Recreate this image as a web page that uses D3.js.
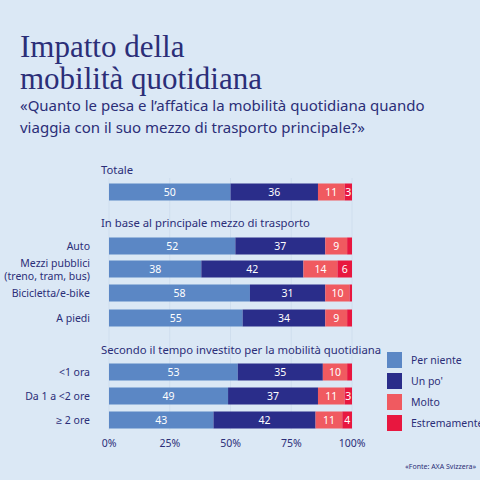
<!DOCTYPE html>
<html><head><meta charset="utf-8">
<script src="https://cdn.jsdelivr.net/npm/d3@7"></script>
<style>body{margin:0;background:#dbe8f5}svg{display:block}</style>
</head><body><svg id="c" width="480" height="480"></svg>
<script>
const series=["Per niente","Un po'","Molto","Estremamente"];
const colors=["#5b87c5","#2a2d8a","#f05a60","#e8173f"];
const categories=["Totale","Auto","Mezzi pubblici|(treno, tram, bus)","Bicicletta/e-bike","A piedi","<1 ora","Da 1 a <2 ore","≥ 2 ore"];
const perNiente=[50,52,38,58,55,53,49,43];
const unPo=[36,37,42,31,34,35,37,42];
const molto=[11,9,14,10,9,10,11,11];
const estremamente=[3,2,6,1,2,2,3,4];
const ticks=[0,25,50,75,100];
const rowY=[192,246,269,293,318,372,396,420];
const showCatLabel=[false,true,true,true,true,true,true,true];
const ink="#2b2e78";
const svg=d3.select("#c");
svg.append("rect").attr("width",480).attr("height",480).attr("fill","#dbe8f5");
const x=d3.scaleLinear().domain([0,100]).range([109,352]);
const bh=17;
svg.append("g").selectAll("line").data(ticks).join("line")
 .attr("x1",d=>x(d)).attr("x2",d=>x(d)).attr("y1",178).attr("y2",430)
 .attr("stroke","#cfdeee").attr("stroke-width",1);
const t=svg.append("text").attr("font-family","Liberation Serif, DejaVu Serif, serif").attr("font-size",31).attr("fill",ink);
t.append("tspan").attr("x",20).attr("y",57).text("Impatto della");
t.append("tspan").attr("x",20).attr("y",89).text("mobilità quotidiana");
const st=svg.append("text").attr("font-family","Source Sans Pro, Noto Sans, sans-serif").attr("font-size",15).attr("fill",ink);
st.append("tspan").attr("x",20).attr("y",111).text("«Quanto le pesa e l’affatica la mobilità quotidiana quando");
st.append("tspan").attr("x",20).attr("y",133).text("viaggia con il suo mezzo di trasporto principale?»");
const font="Noto Sans, sans-serif";
[["Totale",174],["In base al principale mezzo di trasporto",227],["Secondo il tempo investito per la mobilità quotidiana",354]].forEach(([s,y])=>
 svg.append("text").attr("x",101).attr("y",y).attr("font-family",font).attr("font-size",11.3).attr("fill",ink).text(s));
const data=categories.map((c,i)=>[perNiente[i],unPo[i],molto[i],estremamente[i]]);
data.forEach((vals,i)=>{
  let acc=0;
  vals.forEach((v,j)=>{
    const x0=x(acc),x1=x(acc+v);acc+=v;
    svg.append("rect").attr("x",x0).attr("y",rowY[i]-bh/2).attr("width",x1-x0).attr("height",bh).attr("fill",colors[j]);
    if(v>=3) svg.append("text").attr("x",(x0+x1)/2).attr("y",rowY[i]+4).attr("text-anchor","middle")
      .attr("font-family",font).attr("font-size",10.5).attr("fill","#fff").text(v);
  });
  if(showCatLabel[i]){
    const parts=categories[i].split("|");
    const tx=svg.append("text").attr("text-anchor","end").attr("font-family",font).attr("font-size",10.5).attr("fill",ink);
    parts.forEach((p,k)=>tx.append("tspan").attr("x",90).attr("y",rowY[i]+4+(k-(parts.length-1)/2)*13).text(p));
  }
});
svg.append("g").selectAll("text").data(ticks).join("text")
 .attr("x",d=>x(d)).attr("y",447).attr("text-anchor","middle").attr("font-family",font).attr("font-size",10.5).attr("fill",ink).text(d=>d+"%");
series.forEach((s,j)=>{
  svg.append("rect").attr("x",387).attr("y",352+j*21).attr("width",15).attr("height",16).attr("fill",colors[j]);
  svg.append("text").attr("x",411).attr("y",364+j*21).attr("font-family",font).attr("font-size",10.5).attr("fill",ink).text(s);
});
svg.append("text").attr("x",476).attr("y",469).attr("text-anchor","end").attr("font-family",font).attr("font-size",7).attr("fill",ink).text("«Fonte: AXA Svizzera»");
</script></body></html>
